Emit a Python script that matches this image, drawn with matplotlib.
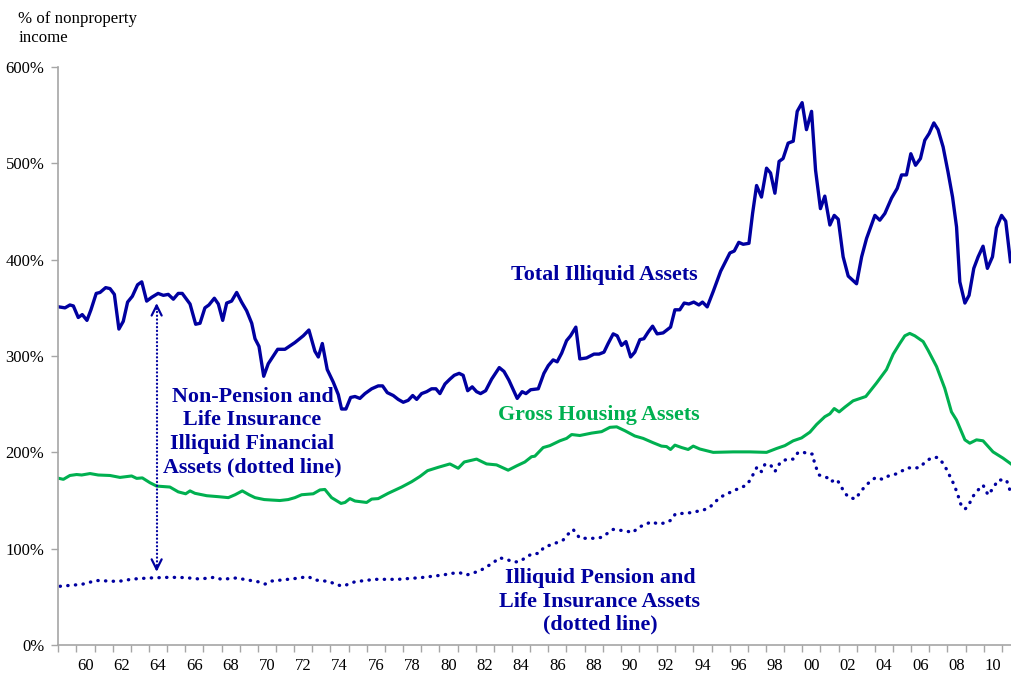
import matplotlib
matplotlib.use("Agg")
import matplotlib.pyplot as plt
from matplotlib.ticker import FixedLocator, FuncFormatter

# data, % of nonproperty income
total_years = [1959.04, 1959.37, 1959.64, 1959.83, 1960.1, 1960.32, 1960.58, 1960.8, 1961.09, 1961.3,
               1961.61, 1961.85, 1962.09, 1962.34, 1962.58, 1962.82, 1963.08, 1963.37, 1963.6, 1963.87,
               1964.15, 1964.5, 1964.79, 1965.06, 1965.34, 1965.61, 1965.83, 1966.26, 1966.57, 1966.81,
               1967.08, 1967.3, 1967.6, 1967.82, 1968.06, 1968.28, 1968.55, 1968.83, 1969.1, 1969.38,
               1969.66, 1969.84, 1970.06, 1970.32, 1970.57, 1971.09, 1971.49, 1972.04, 1972.5, 1972.81,
               1973.14, 1973.33, 1973.55, 1973.82, 1974.15, 1974.43, 1974.61, 1974.85, 1975.11, 1975.35,
               1975.62, 1975.9, 1976.27, 1976.63, 1976.87, 1977.13, 1977.46, 1977.73, 1978.01, 1978.28,
               1978.53, 1978.75, 1979.02, 1979.3, 1979.57, 1979.81, 1980.03, 1980.31, 1980.58, 1980.82,
               1981.09, 1981.31, 1981.56, 1981.81, 1982.05, 1982.27, 1982.55, 1982.88, 1983.3, 1983.56,
               1983.83, 1984.07, 1984.29, 1984.56, 1984.77, 1985.03, 1985.45, 1985.76, 1986.0, 1986.27,
               1986.49, 1986.74, 1987.01, 1987.23, 1987.52, 1987.74, 1988.11, 1988.52, 1988.8, 1989.07,
               1989.3, 1989.58, 1989.8, 1990.04, 1990.28, 1990.54, 1990.77, 1991.05, 1991.27, 1991.51,
               1991.75, 1992.0, 1992.33, 1992.74, 1992.98, 1993.25, 1993.49, 1993.75, 1994.02, 1994.3,
               1994.5, 1994.76, 1995.09, 1995.5, 1996.01, 1996.25, 1996.5, 1996.74, 1997.06, 1997.26,
               1997.48, 1997.75, 1998.03, 1998.25, 1998.49, 1998.72, 1998.94, 1999.22, 1999.5, 1999.72,
               1999.99, 2000.23, 2000.51, 2000.73, 2001.0, 2001.24, 2001.52, 2001.76, 2001.98, 2002.25,
               2002.53, 2002.99, 2003.27, 2003.54, 2004.0, 2004.27, 2004.55, 2004.92, 2005.23, 2005.47,
               2005.74, 2005.98, 2006.24, 2006.51, 2006.75, 2006.99, 2007.25, 2007.48, 2007.76, 2008.03,
               2008.28, 2008.5, 2008.68, 2008.96, 2009.19, 2009.45, 2009.69, 2009.96, 2010.2, 2010.48,
               2010.7, 2010.98, 2011.21, 2011.47]
total_values = [351, 350, 353, 352, 340, 343, 337, 348, 365, 366,
                371, 370, 364, 328, 336, 356, 362, 374, 377, 357,
                361, 365, 363, 364, 359, 365, 365, 354, 333, 334,
                350, 353, 360, 354, 337, 355, 357, 366, 356, 347,
                334, 318, 310, 279, 292, 307, 307, 314, 321, 327,
                305, 299, 313, 286, 273, 260, 245, 245, 257, 258,
                256, 261, 266, 269, 269, 262, 259, 255, 252, 254,
                259, 255, 261, 263, 266, 266, 261, 271, 276, 280,
                282, 280, 264, 268, 263, 261, 264, 276, 288, 284,
                275, 265, 256, 263, 261, 265, 266, 282, 290, 296,
                294, 303, 316, 321, 330, 297, 298, 302, 302, 304,
                313, 323, 321, 311, 315, 299, 304, 317, 318, 325,
                331, 323, 324, 330, 348, 348, 355, 354, 356, 353,
                356, 351, 367, 388, 407, 409, 418, 416, 417, 448,
                477, 465, 495, 490, 469, 502, 505, 521, 523, 554,
                563, 535, 554, 493, 453, 466, 436, 446, 442, 403,
                383, 375, 403, 422, 446, 441, 448, 464, 474, 488,
                488, 510, 498, 505, 524, 531, 542, 535, 517, 491,
                465, 434, 377, 355, 363, 391, 403, 414, 391, 403,
                433, 446, 440, 398]

housing_years = [1959.04, 1959.28, 1959.64, 1960.01, 1960.29, 1960.75, 1961.2, 1961.85, 1962.4, 1963.04,
                 1963.32, 1963.63, 1964.05, 1964.42, 1965.15, 1965.61, 1966.02, 1966.26, 1966.53, 1967.18,
                 1967.82, 1968.37, 1968.74, 1969.14, 1969.51, 1969.84, 1970.35, 1970.76, 1971.21, 1971.67,
                 1972.04, 1972.41, 1973.05, 1973.42, 1973.69, 1974.06, 1974.58, 1974.8, 1975.07, 1975.35,
                 1975.99, 1976.27, 1976.63, 1977.18, 1977.92, 1978.47, 1978.93, 1979.35, 1979.94, 1980.58,
                 1981.04, 1981.37, 1982.05, 1982.6, 1983.15, 1983.79, 1984.26, 1984.71, 1985.08, 1985.26,
                 1985.72, 1986.09, 1986.64, 1987.01, 1987.29, 1987.74, 1988.39, 1988.94, 1989.4, 1989.77,
                 1990.22, 1990.77, 1991.23, 1991.78, 1992.24, 1992.52, 1992.74, 1992.98, 1993.35, 1993.71,
                 1993.99, 1994.35, 1995.09, 1996.19, 1997.11, 1998.03, 1998.58, 1999.04, 1999.5, 1999.96,
                 2000.42, 2000.79, 2001.24, 2001.52, 2001.76, 2002.03, 2002.35, 2002.8, 2003.5, 2004.09,
                 2004.64, 2005.01, 2005.37, 2005.65, 2005.92, 2006.2, 2006.66, 2006.93, 2007.4, 2007.85,
                 2008.22, 2008.5, 2008.96, 2009.23, 2009.6, 2009.96, 2010.51, 2011.06, 2011.5]
housing_values = [173, 172, 176, 177, 176.5, 178, 176.5, 176, 174, 175.5,
                  173, 173.5, 168.5, 165, 164, 159, 157, 160, 157.5, 155,
                  154, 153, 156, 160, 156, 153, 151, 150.5, 150, 151,
                  153, 156, 157, 161, 161.5, 153, 147, 148, 152, 149.5,
                  148, 151.5, 152, 157.5, 164, 169.5, 175, 181, 184.5, 188,
                  183.5, 190, 193, 188, 187, 181.5, 186, 190, 195.5, 196,
                  205, 207, 212, 214.5, 218.5, 217.5, 220, 221.5, 226, 226.5,
                  222.5, 217, 214.5, 210, 206.5, 206, 203, 207.5, 205, 203,
                  206.5, 203.5, 200, 200.5, 200.5, 200, 204, 207, 212, 215,
                  221, 229, 237, 240, 245.5, 242, 247, 253.5, 258, 272,
                  286, 302, 313, 321, 323.5, 321, 315, 306, 289, 266.5,
                  242, 233.5, 213, 209.5, 213, 212, 200.5, 194, 188]

pension_years = [1959.1, 1960.3, 1961.1, 1962.3, 1963.1, 1964.0, 1965.15, 1966.0, 1966.8, 1967.6,
                 1968.0, 1968.8, 1970.0, 1970.4, 1970.75, 1971.95, 1972.77, 1973.16, 1973.9, 1974.4,
                 1974.7, 1975.35, 1976.45, 1977.73, 1979.0, 1980.2, 1980.67, 1981.13, 1981.5, 1982.23,
                 1982.97, 1983.3, 1983.7, 1984.07, 1984.4, 1985.08, 1985.5, 1985.76, 1986.46, 1986.82,
                 1987.1, 1987.37, 1987.74, 1988.57, 1988.94, 1989.58, 1990.32, 1990.65, 1990.96, 1991.69,
                 1992.06, 1992.5, 1992.8, 1993.0, 1993.8, 1994.54, 1994.9, 1995.46, 1996.19, 1996.93,
                 1997.15, 1997.51, 1997.75, 1997.94, 1998.25, 1998.49, 1998.8, 1999.17, 1999.5, 1999.77,
                 2000.09, 2000.34, 2000.56, 2000.65, 2000.78, 2000.93, 2001.37, 2001.56, 2001.89, 2002.11,
                 2002.29, 2002.56, 2002.93, 2003.17, 2003.41, 2003.72, 2004.05, 2004.42, 2004.78, 2005.15,
                 2005.52, 2005.83, 2006.15, 2006.48, 2006.79, 2007.12, 2007.45, 2007.73, 2007.95, 2008.13,
                 2008.31, 2008.46, 2008.59, 2008.73, 2008.96, 2009.14, 2009.42, 2009.69, 2009.96, 2010.24,
                 2010.51, 2010.79, 2011.25, 2011.5]
pension_values = [61, 63, 67, 66, 68.5, 69.6, 70.3, 70, 68.5, 70.3,
                  68.2, 69.6, 65.7, 63.3, 66.4, 68.8, 71, 67.5, 66, 62.3,
                  61.2, 65.7, 68.2, 68.2, 70, 72.7, 74.4, 75, 72.7, 77,
                  85.4, 90.6, 89, 86.2, 86.5, 94.5, 95.2, 101.4, 106.2, 109,
                  115.2, 120, 110.8, 110.8, 111.8, 120, 118.3, 116.6, 122, 128,
                  125.6, 127, 130, 136, 137.3, 140, 143, 153.3, 160, 166,
                  172, 185, 180, 187.6, 187, 180, 190, 193, 193, 200,
                  200, 198, 198.3, 191, 183.4, 176.5, 173.7, 169.5, 172, 166,
                  159, 153.3, 151.6, 158, 163.7, 169.5, 174, 172, 175.8, 177.5,
                  181, 184, 183.4, 184.5, 190.3, 194.4, 194.8, 189.3, 182.4, 175.4,
                  168.5, 161.6, 154.7, 146.4, 141, 144.3, 154.7, 161, 166, 155.7,
                  162.7, 171.3, 171.3, 157.5]

label_years = list(range(1960, 2011, 2))
yticks = [0, 100, 200, 300, 400, 500, 600]

# gap between the two series, marked with the double arrow
arrow_year = 1964.42
arrow_top = 355
arrow_bottom = 76

blue = "#0000A0"
green = "#00B050"
grey = "#A6A6A6"

plt.rcParams["font.family"] = ["Liberation Serif", "DejaVu Serif"]

fig = plt.figure(figsize=(10.12, 6.75), dpi=100)
ax = fig.add_axes([0.0576, 0.0444, 0.9414, 0.8563])

ax.plot(total_years, total_values, color=blue, lw=2.4, solid_joinstyle="round")
ax.plot(housing_years, housing_values, color=green, lw=2.2, solid_joinstyle="round")
ax.plot(pension_years, pension_values, color=blue, lw=2.4,
        linestyle=(0, (0.1, 2.2)), dash_capstyle="round")

# dotted double arrow
ax.plot([arrow_year, arrow_year], [arrow_bottom + 3, arrow_top - 3], color=blue, lw=1.6,
        linestyle=(0, (0.1, 1.6)), dash_capstyle="round")
for tip, tail in [(arrow_top, arrow_top - 6), (arrow_bottom, arrow_bottom + 6)]:
    ax.annotate("", xy=(arrow_year, tip), xytext=(arrow_year, tail),
                arrowprops=dict(arrowstyle="->", color=blue, lw=1.6, mutation_scale=18,
                                shrinkA=0, shrinkB=0))

ax.set_xlim(1959.0, 2011.5)
ax.set_ylim(0, 600)

# year boundaries get tick marks, labels sit in the middle of the year
ax.xaxis.set_major_locator(FixedLocator(list(range(1959, 2012))))
ax.xaxis.set_major_formatter(FuncFormatter(lambda v, p: ""))
ax.xaxis.set_minor_locator(FixedLocator([y + 0.5 for y in label_years]))
ax.xaxis.set_minor_formatter(FuncFormatter(lambda v, p: "%02d" % (int(v) % 100)))
ax.tick_params(axis="x", which="major", direction="out", length=5, color=grey, width=1)
ax.tick_params(axis="x", which="minor", length=0, labelsize=12, pad=9)

ax.set_yticks(yticks)
ax.set_yticklabels(["%d%%" % v for v in yticks])
ax.tick_params(axis="y", direction="out", length=5, color=grey, width=1, labelsize=12, pad=5)

for s in ["top", "right"]:
    ax.spines[s].set_visible(False)
for s in ["left", "bottom"]:
    ax.spines[s].set_color(grey)
    ax.spines[s].set_linewidth(1.2)

fig.text(0.018, 0.984, "% of nonproperty\nincome", fontsize=12.2, va="top", ha="left",
         linespacing=1.3)

bold = dict(fontsize=15.8, fontweight="bold", ha="center", va="center")
ax.text(1989.1, 384, "Total Illiquid Assets", color=blue, **bold)
ax.text(1988.8, 239, "Gross Housing Assets", color=green, **bold)
ax.text(1969.7, 221, "Non-Pension and\nLife Insurance\nIlliquid Financial\nAssets (dotted line)",
        color=blue, linespacing=1.22, **bold)
ax.text(1988.85, 45, "Illiquid Pension and\nLife Insurance Assets\n(dotted line)",
        color=blue, linespacing=1.22, **bold)

fig.savefig("out.png", dpi=100)
